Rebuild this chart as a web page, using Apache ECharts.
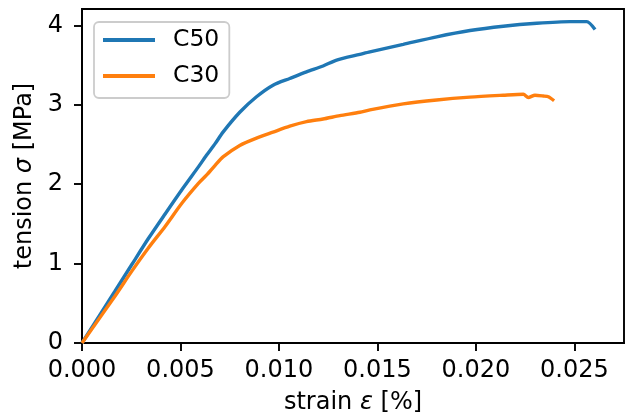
<!DOCTYPE html>
<html>
<head>
<meta charset="utf-8">
<script src="https://cdn.jsdelivr.net/npm/echarts@6/dist/echarts.min.js"></script>
<style>
  html, body { margin: 0; padding: 0; background: #fff; }
  #chart { width: 636px; height: 420px; }
</style>
</head>
<body>
<div id="chart"></div>
<script>
// stress-strain curves, values
var c50Strain = [0, 0.00168, 0.00253, 0.00337, 0.00422, 0.00507, 0.00591, 0.00632, 0.00676,
    0.00716, 0.00801, 0.00886, 0.0097, 0.01055, 0.0114, 0.01224, 0.01293, 0.01411,
    0.01462, 0.01631, 0.01801, 0.0197, 0.02139, 0.02309, 0.02478, 0.02563, 0.02605];
var c50Stress = [0, 0.655, 0.988, 1.315, 1.625, 1.93, 2.2175, 2.3625, 2.51,
    2.655, 2.905, 3.1, 3.246, 3.33, 3.4125, 3.4875, 3.5625, 3.634,
    3.665, 3.759, 3.855, 3.934, 3.988, 4.025, 4.046, 4.046, 3.946];

var c30Strain = [0, 0.00168, 0.00253, 0.00337, 0.00422, 0.00507, 0.00591, 0.00632, 0.00676,
    0.00716, 0.00801, 0.00886, 0.0097, 0.01055, 0.0114, 0.01224, 0.01309, 0.01411,
    0.01462, 0.01631, 0.01801, 0.0197, 0.02139, 0.02241, 0.02266, 0.023, 0.02342,
    0.02368, 0.02397];
var c30Stress = [0, 0.5925, 0.905, 1.196, 1.4675, 1.759, 2.009, 2.1125, 2.2375,
    2.3425, 2.4875, 2.58, 2.655, 2.73, 2.7875, 2.82, 2.8625, 2.905,
    2.935, 3.01, 3.06, 3.096, 3.12, 3.132, 3.09, 3.12, 3.11,
    3.1, 3.05];

var xTicks = [0, 0.005, 0.01, 0.015, 0.02, 0.025];
var yTicks = [0, 1, 2, 3, 4];

function pairs(xs, ys) {
    return xs.map(function (x, i) { return [x, ys[i]]; });
}

var font = 'DejaVu Sans';
var fs = 24;

var option = {
    animation: false,
    backgroundColor: '#ffffff',
    textStyle: { fontFamily: font },
    grid: {
        left: 82,
        right: 12,
        top: 9,
        bottom: 74,
        show: true,
        borderColor: '#000',
        borderWidth: 1.9
    },
    legend: {
        orient: 'vertical',
        left: 94,
        top: 22,
        icon: 'rect',
        itemWidth: 52,
        itemHeight: 4,
        itemGap: 12,
        padding: [6, 10, 10, 9],
        borderColor: '#cccccc',
        borderWidth: 1.8,
        borderRadius: 5,
        backgroundColor: 'rgba(255,255,255,0.8)',
        textStyle: {
            fontFamily: font, fontSize: 23.5, color: '#000', lineHeight: 24,
            padding: [0, 0, 0, 13]
        },
        data: ['C50', 'C30']
    },
    xAxis: {
        type: 'value',
        min: 0,
        max: 0.02752,
        name: 'strain {i|ε} [%]',
        nameLocation: 'middle',
        nameGap: 48,
        nameTextStyle: {
            fontFamily: font, fontSize: fs, color: '#000',
            rich: { i: { fontFamily: font, fontSize: fs, fontStyle: 'italic', color: '#000' } }
        },
        axisLine: { lineStyle: { color: '#000', width: 1.9 } },
        axisTick: { length: 8, customValues: xTicks, lineStyle: { color: '#000', width: 1.9 } },
        axisLabel: {
            customValues: xTicks,
            margin: 16,
            fontFamily: font, fontSize: fs, color: '#000',
            formatter: function (v) { return v.toFixed(3); }
        },
        splitLine: { show: false }
    },
    yAxis: {
        type: 'value',
        min: 0,
        max: 4.205,
        name: 'tension {i|σ} [MPa]',
        nameLocation: 'middle',
        nameGap: 42,
        nameTextStyle: {
            fontFamily: font, fontSize: fs, color: '#000',
            rich: { i: { fontFamily: font, fontSize: fs, fontStyle: 'italic', color: '#000' } }
        },
        axisLine: { lineStyle: { color: '#000', width: 1.9 } },
        axisTick: { length: 8, customValues: yTicks, lineStyle: { color: '#000', width: 1.9 } },
        axisLabel: {
            customValues: yTicks,
            margin: 19,
            fontFamily: font, fontSize: fs, color: '#000'
        },
        splitLine: { show: false }
    },
    series: [
        {
            name: 'C50',
            type: 'line',
            showSymbol: false,
            symbol: 'none',
            smooth: 0.25,
            color: '#1f77b4',
            lineStyle: { width: 3.4, color: '#1f77b4' },
            data: pairs(c50Strain, c50Stress)
        },
        {
            name: 'C30',
            type: 'line',
            showSymbol: false,
            symbol: 'none',
            smooth: 0.25,
            color: '#ff7f0e',
            lineStyle: { width: 3.4, color: '#ff7f0e' },
            data: pairs(c30Strain, c30Stress)
        }
    ]
};

var myChart = echarts.init(document.getElementById('chart'));
myChart.setOption(option);
</script>
</body>
</html>
